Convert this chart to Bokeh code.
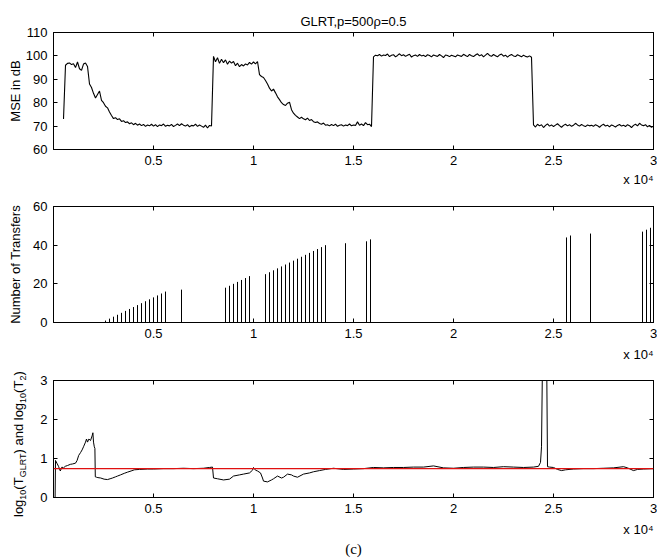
import numpy as np
from bokeh.plotting import figure
from bokeh.layouts import column, row
from bokeh.models import (Range1d, LinearAxis, FixedTicker, CustomJSTickFormatter,
                          Span, Title, Div)
from bokeh.embed import file_html
from bokeh.resources import INLINE

# ---------------- data ----------------
title_text = "GLRT,p=500ρ=0.5"
x_ticks = [0.5, 1.0, 1.5, 2.0, 2.5, 3.0]
scale_text = "x 10⁴"
panel_tag = "(c)"
mse_label = "MSE in dB"
transfer_label = "Number of Transfers"
mse_y_ticks = [60, 70, 80, 90, 100, 110]
transfer_y_ticks = [0, 20, 40, 60]
glrt_y_ticks = [0, 1, 2, 3]

# MSE curve (x in units of 1e4 samples), sampled every 0.01 from 0.05
mse_x_start = 0.05
mse_x_step = 0.01
mse_db = [
    73, 96, 96.8, 97, 96.3,
    96.6, 95, 97.4, 94.5, 93.8, 96.5, 97, 95.5, 88, 86.5,
    84, 82, 83.5, 85, 81, 80, 78.5, 77.8, 76, 74.5,
    73.2, 73.6, 72.8, 73.1, 72, 72.3, 71.5, 71.8, 71, 71.4,
    70.6, 71.2, 70.4, 70.9, 70.2, 70.7, 69.9, 70.5, 70.1, 70.8,
    70, 70.6, 69.8, 70.5, 70.2, 70.9, 69.9, 70.4, 70.1, 70.7,
    69.8, 70.3, 70.9, 70.2, 71, 70.4, 70, 70.6, 69.7, 70.3,
    70.1, 70.8, 69.9, 70.5, 70, 69.5, 70.4, 69.2, 70.3, 70,
    99.8, 97.5, 99.2, 96.8, 98.6, 97.1, 98.3, 96.4, 97.8, 96.9,
    97.6, 95.8, 96.9, 95.4, 96.3, 95.7, 96.6, 96.1, 97.2, 96.5,
    97.4, 96.6, 97.6, 92, 91.2, 90.8, 89.5, 88, 86.2, 85,
    85.8, 84.2, 82.5, 81.3, 80, 79.2, 78.8, 79.8, 80.2, 77,
    75.5, 74.6, 73.9, 73.2, 73.8, 73.1, 72.7, 73.4, 72.4, 72.8,
    71.9, 71.5, 71.8, 71.1, 70.8, 71.3, 70.4, 70.6, 70.1, 70.7,
    70.2, 70.8, 69.9, 70.4, 70.6, 70, 70.5, 70.2, 70.9, 70.1,
    70.5, 70.3, 71.8, 70.4, 70.9, 70.2, 71.5, 70.6, 70.8, 69.8,
    99.6, 100.3, 100.1, 100.6, 99.9, 100.4, 100.2, 100.8, 99.7, 100.3,
    100.5, 99.6, 100.2, 100.9, 100.1, 100.5, 99.8, 100.3, 100.7, 99.5,
    100.1, 100.4, 99.8, 100.6, 100, 100.3, 99.7, 100.5, 100.2, 99.6,
    100.4, 100.1, 99.8, 100.6, 100, 99.3, 100.4, 100.2, 99.7, 100.3,
    100, 99.6, 100.4, 100.1, 99.8, 100.7, 100.2, 99.7, 100.6, 100.1,
    99.7, 100.4, 100.9, 100, 100.5, 99.6, 100.3, 101.1, 100.2, 99.8,
    100.6, 100.1, 99.6, 100.4, 100.8, 99.9, 100.3, 99.5, 100.2, 100.6,
    100, 99.7, 100.5, 100.1, 99.6, 100.3, 99.8, 99.5, 100, 99.4,
    70.5, 69.6, 70.8, 70.1, 70.6, 69.4, 70.3, 70.9, 70, 70.5,
    69.8, 70.4, 71, 70.2, 69.5, 70.3, 70.8, 70.1, 70.6, 69.9,
    70.4, 71.2, 70.5, 70, 70.7, 70.2, 69.8, 70.5, 70.1, 70.4,
    69.9, 70.6, 70.2, 69.5, 70.3, 70.8, 70, 70.4, 69.7, 70.5,
    70.1, 69.6, 70.3, 70.7, 70, 70.4, 69.8, 70.6, 70.2, 69.4,
    70.3, 70.8, 70.1, 71.2, 70.5, 70.2, 70.6, 69.7, 70.3, 69.5, 70,
]

# Number of transfers (stem plot)
transfer_x = [
    0.26, 0.28, 0.30, 0.32, 0.34, 0.36, 0.38, 0.40, 0.42, 0.44, 0.46, 0.48, 0.50, 0.52, 0.54, 0.56,
    0.64,
    0.86, 0.88, 0.90, 0.92, 0.94, 0.96, 0.98,
    1.06, 1.08, 1.10, 1.12, 1.14, 1.16, 1.18, 1.20, 1.22, 1.24, 1.26, 1.28, 1.30, 1.32, 1.34, 1.36,
    1.46,
    1.565, 1.585,
    2.565, 2.585,
    2.685,
    2.945, 2.965, 2.985,
]
transfer_count = [
    1, 2, 3, 4, 5, 6, 7, 8, 9, 10, 11, 12, 13, 14, 15, 16,
    17,
    18, 19, 20, 21, 22, 23, 24,
    25, 26, 27, 28, 29, 30, 31, 32, 33, 34, 35, 36, 37, 38, 39, 40,
    41,
    42, 43,
    44, 45,
    46,
    47, 48, 49,
]

# log10 statistics
glrt_x = [
    0.008, 0.01, 0.017, 0.025, 0.034, 0.042, 0.05, 0.059, 0.07, 0.084, 0.095, 0.11, 0.118,
    0.126, 0.135, 0.143, 0.15, 0.16, 0.165, 0.17, 0.177, 0.185, 0.193, 0.197, 0.2, 0.204,
    0.207, 0.209, 0.215, 0.222, 0.236, 0.253, 0.27, 0.283, 0.295, 0.31, 0.32, 0.335, 0.354,
    0.37, 0.388, 0.404, 0.43, 0.47, 0.5, 0.55, 0.6, 0.65, 0.7, 0.75, 0.78, 0.795, 0.8, 0.82,
    0.85, 0.88, 0.9, 0.93, 0.95, 0.98, 0.995, 1.0, 1.01, 1.02, 1.035, 1.045, 1.05, 1.07,
    1.09, 1.1, 1.12, 1.14, 1.15, 1.17, 1.19, 1.2, 1.22, 1.25, 1.28, 1.3, 1.33, 1.36, 1.4,
    1.45, 1.5, 1.55, 1.6, 1.65, 1.7, 1.75, 1.8, 1.85, 1.9, 1.95, 2.0, 2.05, 2.1, 2.15, 2.2,
    2.25, 2.3, 2.35, 2.4, 2.425, 2.435, 2.44, 2.445, 2.45, 2.46, 2.466, 2.47, 2.48, 2.5,
    2.52, 2.54, 2.56, 2.6, 2.65, 2.7, 2.75, 2.8, 2.85, 2.87, 2.9, 2.92, 2.95, 3.0,
]
glrt_log = [
    0.0, 0.95, 0.88, 0.8, 0.68, 0.78, 0.76, 0.8, 0.82, 0.85, 0.86, 0.88, 0.95,
    1.08, 1.15, 1.22, 1.3, 1.42, 1.5, 1.42, 1.5, 1.46, 1.58, 1.66, 1.42, 1.3,
    1.26, 0.53, 0.52, 0.51, 0.5, 0.47, 0.46, 0.48, 0.5, 0.53, 0.55, 0.58, 0.62,
    0.65, 0.68, 0.71, 0.72, 0.73, 0.73, 0.74, 0.74, 0.75, 0.74, 0.75, 0.77, 0.78, 0.5, 0.48,
    0.45, 0.47, 0.55, 0.58, 0.6, 0.63, 0.7, 0.77, 0.7, 0.68, 0.63, 0.5, 0.42, 0.4,
    0.45, 0.48, 0.55, 0.5, 0.52, 0.6, 0.58, 0.55, 0.52, 0.6, 0.63, 0.66, 0.69, 0.72, 0.75,
    0.72, 0.73, 0.74, 0.77, 0.76, 0.77, 0.77, 0.78, 0.78, 0.81, 0.76, 0.75, 0.77, 0.78, 0.78, 0.77,
    0.79, 0.78, 0.77, 0.78, 0.8, 0.9, 1.3, 3.5, 5.0, 5.0, 3.5, 0.79, 0.78, 0.77,
    0.72, 0.69, 0.71, 0.73, 0.74, 0.74, 0.75, 0.76, 0.79, 0.76, 0.69, 0.72, 0.73, 0.74,
]
threshold_log = 0.74

# y label of the third panel, split into normal / subscript pieces
glrt_label_pieces = [("log", False), ("10", True), ("(T", False), ("GLRT", True),
                     (") and log", False), ("10", True), ("(T", False), ("2", True),
                     (")", False)]

# ---------------- styling / layout ----------------
W = 657
FONT = "Liberation Sans"
TICK_SIZE = "13px"
LABEL_SIZE = "13px"
FH = 117
LEFT = 53


def text_title(text, align="center", size="13px", font=FONT, standoff=0, offset=0):
    return Title(text=text, align=align, text_font=font, text_font_size=size,
                 text_font_style="normal", text_color="black",
                 standoff=standoff, offset=offset)


def make_panel(ymin, ymax, yticks, top, bottom, width=W, left=LEFT,
               ylabel=None, label_standoff=0):
    p = figure(width=width, height=top + FH + bottom, title=None,
               x_range=Range1d(0, 3), y_range=Range1d(ymin, ymax),
               output_backend="svg", toolbar_location=None,
               min_border_left=left, min_border_right=4,
               min_border_top=top, min_border_bottom=bottom,
               background_fill_color="white", border_fill_color="white",
               outline_line_color="black", outline_line_width=1)
    p.xgrid.visible = False
    p.ygrid.visible = False
    fmt = CustomJSTickFormatter(code="return String(tick)")
    xax = p.below[0]
    yax = p.left[0]
    xax.ticker = FixedTicker(ticks=x_ticks)
    yax.ticker = FixedTicker(ticks=yticks)
    for ax in (xax, yax):
        ax.formatter = fmt
        ax.major_tick_in = 4
        ax.major_tick_out = 0
        ax.minor_tick_line_color = None
        ax.axis_line_color = "black"
        ax.major_tick_line_color = "black"
        ax.major_label_text_font = FONT
        ax.major_label_text_font_size = TICK_SIZE
        ax.major_label_text_color = "black"
        ax.major_label_standoff = 6
    if ylabel is not None:
        yax.axis_label = ylabel
        yax.axis_label_standoff = label_standoff
        yax.axis_label_text_font = FONT
        yax.axis_label_text_font_size = LABEL_SIZE
        yax.axis_label_text_font_style = "normal"
        yax.axis_label_text_color = "black"
    blank = CustomJSTickFormatter(code="return ''")
    for side, ticks in (("above", x_ticks), ("right", yticks)):
        ax = LinearAxis(ticker=FixedTicker(ticks=ticks), formatter=blank,
                        major_label_text_font_size="1px",
                        major_label_standoff=0,
                        major_tick_in=4, major_tick_out=0,
                        minor_tick_line_color=None,
                        axis_line_color="black",
                        major_tick_line_color="black")
        p.add_layout(ax, side)
    return p


# ---- panel 1: MSE ----
p1 = make_panel(60, 110, mse_y_ticks, top=32, bottom=41, ylabel=mse_label, label_standoff=0)
mse_x = np.round(mse_x_start + mse_x_step * np.arange(len(mse_db)), 2)
p1.line(mse_x, mse_db, line_color="black", line_width=1.1)
p1.add_layout(text_title(title_text, standoff=8), "above")
p1.add_layout(text_title(scale_text, align="right", standoff=4), "below")

# ---- panel 2: transfers ----
p2 = make_panel(0, 60, transfer_y_ticks, top=16, bottom=42, ylabel=transfer_label,
                label_standoff=7)
p2.segment(x0=transfer_x, y0=[0] * len(transfer_x), x1=transfer_x, y1=transfer_count,
           line_color="black", line_width=1)
p2.add_layout(text_title(scale_text, align="right", standoff=8), "below")

# ---- panel 3: log statistics ----
LAB_W = 36
H3 = 194
p3 = make_panel(0, 3, glrt_y_ticks, top=15, bottom=62, width=W - LAB_W, left=LEFT - LAB_W)
p3.line(glrt_x, glrt_log, line_color="black", line_width=1)
p3.add_layout(Span(location=threshold_log, dimension="width",
                   line_color="#e01010", line_width=1.2))
p3.add_layout(text_title(scale_text, align="right", standoff=8), "below")
p3.add_layout(text_title(panel_tag, size="15px", font="Liberation Serif",
                         offset=-23, standoff=-3), "below")

# rotated y label with subscripts for panel 3 (real HTML text)
sub_style = "font-size:9px;line-height:0;vertical-align:-3px"
label_html = "".join(f'<span style="{sub_style}">{t}</span>' if s else t.replace(" ", "&nbsp;")
                     for t, s in glrt_label_pieces)
lab = Div(text=(
    '<div style="width:0;height:0;white-space:nowrap;'
    'transform:translate(12px,151px) rotate(-90deg);transform-origin:0 0;'
    f"font-family:'{FONT}';font-size:13px;line-height:14px;color:black;\">"
    f"{label_html}</div>"),
    width=LAB_W, height=H3, margin=0)

layout = column(p1, p2, row(lab, p3, spacing=0), spacing=0)
open("out.html", "w").write(file_html(layout, INLINE))
